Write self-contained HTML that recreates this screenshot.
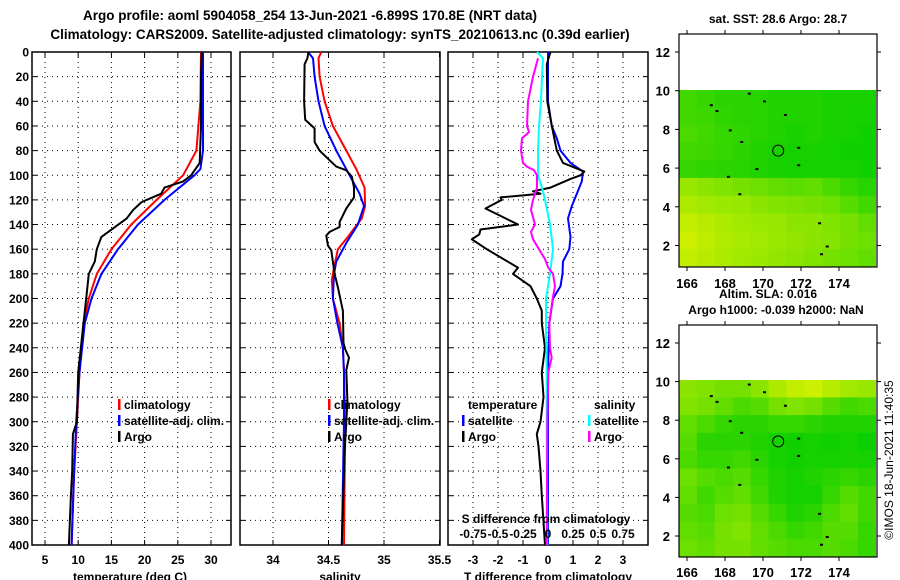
<!DOCTYPE html>
<html><head><meta charset="utf-8"><style>
html,body{margin:0;padding:0;background:#fff;}
svg{display:block;font-family:"Liberation Sans",sans-serif;font-weight:bold;}
</style></head><body>
<svg id="chart" width="900" height="580" viewBox="0 0 900 580" xmlns="http://www.w3.org/2000/svg">
<defs>
<filter id="blur" x="-5%" y="-5%" width="110%" height="110%"><feGaussianBlur stdDeviation="5"/></filter>
<clipPath id="clipTop"><rect x="679" y="90" width="197" height="177"/></clipPath>
<clipPath id="clipBot"><rect x="679" y="380" width="197" height="177"/></clipPath>
</defs>
<text x="310" y="20" font-size="13.5" text-anchor="middle">Argo profile: aoml 5904058_254 13-Jun-2021 -6.899S 170.8E (NRT data)</text>
<text x="340" y="39" font-size="13.5" text-anchor="middle">Climatology: CARS2009. Satellite-adjusted climatology: synTS_20210613.nc (0.39d earlier)</text>
<text x="778" y="23" font-size="12" text-anchor="middle">sat. SST: 28.6 Argo: 28.7</text>
<text x="768" y="298" font-size="12" text-anchor="middle">Altim. SLA: 0.016</text>
<text x="776" y="314" font-size="12" text-anchor="middle">Argo h1000: -0.039 h2000: NaN</text>
<text transform="translate(893,460) rotate(-90)" font-size="12" font-weight="normal" text-anchor="middle">©IMOS 18-Jun-2021 11:40:35</text>
<g id="g"></g>
</svg>
<script>
// ---------- data ----------
const depthTicks=[0,20,40,60,80,100,120,140,160,180,200,220,240,260,280,300,320,340,360,380,400];
const tempTicks=[5,10,15,20,25,30];
const salTicks=[34,34.5,35,35.5];
const tdiffTicks=[-3,-2,-1,0,1,2,3];
const sdiffTickLabels=["-0.75","-0.5","-0.25","0","0.25","0.5","0.75"];
const sdiffTickValues=[-0.75,-0.5,-0.25,0,0.25,0.5,0.75];

const argoTempDepth=[0,20,60,90,100,105,110,115,120,122,128,135,143,150,160,170,180,200,220,260,300,310,340,360,400];
const argoTemp=[28.6,28.5,28.5,28.3,27.0,25.8,23.0,22.5,20.3,19.5,18.3,17.3,15.3,13.5,12.8,12.5,11.6,11.2,10.8,10.0,9.8,9.2,9.1,8.9,8.6];
const climTempDepth=[0,40,80,100,120,140,160,180,200,220,260,300,350,400];
const climTemp=[28.5,28.4,27.8,25.8,21.8,18.0,15.0,12.8,11.6,10.8,10.2,9.8,9.3,9.0];
const satTempDepth=[0,80,95,100,120,140,160,180,200,220,260,300,340,400];
const satTemp=[28.8,28.8,28.4,27.5,23.0,19.0,16.0,13.5,12.0,11.0,10.2,9.7,9.4,9.0];

const argoSalDepth=[0,5,10,40,55,62,73,80,87,93,96,101,110,118,127,138,142,146,149,157,161,180,191,210,236,241,248,258,283,300,325,400];
const argoSal=[34.32,34.31,34.285,34.28,34.29,34.375,34.375,34.42,34.5,34.57,34.66,34.71,34.73,34.73,34.66,34.6,34.6,34.51,34.48,34.495,34.525,34.555,34.585,34.63,34.635,34.65,34.685,34.66,34.67,34.66,34.645,34.62];
const climSalDepth=[0,5,20,40,60,80,95,110,125,135,150,160,175,185,200,220,240,260,300,350,400];
const climSal=[34.435,34.41,34.42,34.465,34.54,34.66,34.75,34.825,34.83,34.8,34.675,34.585,34.55,34.53,34.54,34.6,34.63,34.64,34.65,34.645,34.64];
const satSalDepth=[0,5,20,40,60,80,100,115,125,140,155,170,180,200,220,240,260,300,400];
const satSal=[34.315,34.36,34.375,34.41,34.465,34.57,34.69,34.78,34.82,34.765,34.66,34.57,34.55,34.54,34.58,34.63,34.64,34.64,34.62];

const satTdiffDepth=[0,40,60,70,80,90,97,105,115,125,135,150,160,170,180,190,200,220,260,400];
const satTdiff=[0,0,0.15,0.35,0.5,0.9,1.4,1.35,1.15,0.95,0.8,0.9,0.85,0.6,0.58,0.5,0.2,0.05,0,0];
const argoTdiffDepth=[0,10,40,60,80,90,97,100,103,110,113,115,118,120,127,140,144,148,152,160,175,180,190,200,210,220,240,260,280,300,310,320,340,360,400];
const argoTdiff=[0.1,-0.05,-0.03,0.15,0.35,0.6,1.45,1.3,0.9,0.1,-0.6,-0.3,-1.9,-1.85,-2.5,-1.2,-2.7,-2.75,-3.05,-2.45,-1.2,-1.4,-0.7,-0.45,-0.25,-0.25,-0.12,-0.25,-0.18,-0.3,-0.45,-0.38,-0.3,-0.25,-0.12];
const satSdiffDepth=[0,5,20,40,60,80,100,110,120,140,160,180,200,220,260,300,400];
const satSdiff=[-0.11,-0.05,-0.06,-0.07,-0.09,-0.1,-0.1,-0.06,-0.03,0.02,0.05,0.02,-0.02,-0.02,-0.013,-0.013,-0.007];
const argoSdiffDepth=[5,20,40,60,65,70,80,90,93,96,100,110,120,128,140,146,152,160,168,175,180,190,200,220,240,248,260,300,400];
const argoSdiff=[-0.1,-0.15,-0.2,-0.21,-0.19,-0.26,-0.27,-0.25,-0.21,-0.14,-0.11,-0.11,-0.15,-0.17,-0.13,-0.17,-0.15,-0.09,-0.03,0.003,0.05,0.07,0.047,0.013,0.02,0.037,0.003,-0.007,-0.013];

const latTicks=[2,4,6,8,10,12];
const lonTicks=[166,168,170,172,174];
// map field values (0=green, 1=yellow), rows from lat 10 down to lat 1, cols lon 165.6..176
const sstField=[
[0.30,0.25,0.20,0.20,0.18,0.15,0.15,0.15,0.12,0.12,0.12],
[0.30,0.28,0.22,0.20,0.18,0.15,0.15,0.15,0.12,0.10,0.10],
[0.35,0.30,0.25,0.22,0.18,0.15,0.12,0.15,0.12,0.10,0.08],
[0.30,0.28,0.25,0.20,0.15,0.12,0.10,0.12,0.10,0.08,0.08],
[0.25,0.22,0.20,0.18,0.15,0.12,0.10,0.10,0.10,0.10,0.08],
[0.70,0.65,0.60,0.55,0.50,0.45,0.42,0.45,0.35,0.25,0.18],
[0.80,0.75,0.72,0.70,0.65,0.60,0.58,0.55,0.50,0.40,0.30],
[0.90,0.85,0.80,0.75,0.72,0.70,0.65,0.65,0.60,0.55,0.45],
[0.95,0.88,0.82,0.78,0.75,0.72,0.68,0.65,0.62,0.55,0.50],
[0.90,0.85,0.80,0.75,0.72,0.68,0.65,0.60,0.55,0.50,0.45]];
const slaField=[
[0.65,0.60,0.55,0.55,0.65,0.80,0.90,0.95,0.85,0.75,0.70],
[0.60,0.55,0.45,0.35,0.40,0.55,0.60,0.55,0.40,0.30,0.35],
[0.45,0.35,0.25,0.20,0.20,0.25,0.25,0.20,0.15,0.15,0.15],
[0.40,0.20,0.18,0.20,0.15,0.10,0.08,0.10,0.08,0.10,0.05],
[0.35,0.25,0.25,0.30,0.20,0.10,0.08,0.10,0.10,0.12,0.10],
[0.50,0.40,0.35,0.40,0.25,0.15,0.10,0.15,0.20,0.25,0.20],
[0.45,0.30,0.40,0.45,0.30,0.15,0.10,0.10,0.25,0.40,0.30],
[0.40,0.35,0.50,0.55,0.40,0.25,0.15,0.20,0.35,0.45,0.30],
[0.45,0.40,0.55,0.60,0.45,0.35,0.25,0.30,0.40,0.40,0.25],
[0.50,0.45,0.55,0.55,0.45,0.40,0.35,0.35,0.40,0.35,0.25]];
const argoLon=[170.8], argoLat=[6.9];

// ---------- drawing ----------
const NS="http://www.w3.org/2000/svg";
const G=document.getElementById('g');
function el(tag,attrs,parent){const e=document.createElementNS(NS,tag);for(const k in attrs)e.setAttribute(k,attrs[k]);(parent||G).appendChild(e);return e;}
const Y0=52,Y1=545;
const yD=d=>Y0+(d/400)*(Y1-Y0);
function lin(d0,d1,r0,r1){return v=>r0+(v-d0)/(d1-d0)*(r1-r0);}

function panel(name,x0,x1,xs,xticks,xlabels,title,titleX,showY){
  const f=el('rect',{x:x0,y:Y0,width:x1-x0,height:Y1-Y0,fill:'none',stroke:'#000','stroke-width':1.5});
  
  
  depthTicks.forEach(d=>{
    const y=yD(d);
    if(d>0&&d<400){const l=el('line',{x1:x0,x2:x1,y1:y,y2:y,stroke:'#000','stroke-dasharray':'1,4','stroke-width':1});
      }
    el('line',{x1:x0,x2:x0+5,y1:y,y2:y,stroke:'#000'});el('line',{x1:x1-5,x2:x1,y1:y,y2:y,stroke:'#000'});
    if(showY){const t=el('text',{x:29,y:y+4.5,'font-size':12,'text-anchor':'end'});t.textContent=d;
      }
  });
  xticks.forEach((v,i)=>{
    const x=xs(v);
    if(x>x0+1&&x<x1-1){const l=el('line',{x1:x,x2:x,y1:Y0,y2:Y1,stroke:'#000','stroke-dasharray':'1,4'});
      }
    el('line',{x1:x,x2:x,y1:Y1-5,y2:Y1,stroke:'#000'});el('line',{x1:x,x2:x,y1:Y0,y2:Y0+5,stroke:'#000'});
    const t=el('text',{x:x,y:564,'font-size':12,'text-anchor':'middle'});t.textContent=xlabels[i];
    
  });
  const tt=el('text',{x:titleX,y:581,'font-size':12,'text-anchor':'middle'});tt.textContent=title;
  
}
function series(name,depths,vals,xs,color,w){
  const pts=depths.map((d,i)=>xs(vals[i]).toFixed(1)+','+yD(d).toFixed(1)).join(' ');
  const p=el('polyline',{points:pts,fill:'none',stroke:color,'stroke-width':w||2,'stroke-linejoin':'round'});
  
  
}
function legend(items,x,y){
  items.forEach((it,i)=>{
    const yy=y+i*16;
    el('rect',{x:x,y:yy-10,width:2.5,height:11,fill:it[1]});
    const t=el('text',{x:x+6,y:yy,'font-size':12});t.textContent=it[0];
    
    
  });
}

// panel 1 temperature
const xT=lin(5,30,45,211);
panel('temperature-panel',32,231,xT,tempTicks,tempTicks.map(String),'temperature (deg C)',130,true);
series('climatology-temp-line',climTempDepth,climTemp,xT,'#f00');
series('satellite-temp-line',satTempDepth,satTemp,xT,'#00f');
series('argo-temp-line',argoTempDepth,argoTemp,xT,'#000');
legend([['climatology','#f00'],['satellite-adj. clim.','#00f'],['Argo','#000']],118,409);

// panel 2 salinity
const xS=lin(34,35,273,384);
panel('salinity-panel',240,440,xS,salTicks,salTicks.map(String),'salinity',340,false);
series('climatology-sal-line',climSalDepth,climSal,xS,'#f00');
series('satellite-sal-line',satSalDepth,satSal,xS,'#00f');
series('argo-sal-line',argoSalDepth,argoSal,xS,'#000');
legend([['climatology','#f00'],['satellite-adj. clim.','#00f'],['Argo','#000']],328,409);

// panel 3 differences
const xTd=lin(0,1,548,573);
const xSd=v=>xTd(v*4);
panel('difference-panel',448,648,xTd,tdiffTicks,tdiffTicks.map(String),'T difference from climatology',548,false);
series('satellite-tdiff-line',satTdiffDepth,satTdiff,xTd,'#00f');
series('argo-tdiff-line',argoTdiffDepth,argoTdiff,xTd,'#000');
series('satellite-sdiff-line',satSdiffDepth,satSdiff,xSd,'#0ff');
series('argo-sdiff-line',argoSdiffDepth,argoSdiff,xSd,'#f0f');
const lb=el('text',{x:546,y:523,'font-size':12,'text-anchor':'middle'});lb.textContent='S difference from climatology';

sdiffTickValues.forEach((v,i)=>{const t=el('text',{x:xSd(v),y:538,'font-size':12,'text-anchor':'middle'});t.textContent=sdiffTickLabels[i];
  });
const tl=el('text',{x:468,y:409,'font-size':12});tl.textContent='temperature';

const sl=el('text',{x:594,y:409,'font-size':12});sl.textContent='salinity';

legend([['satellite','#00f'],['Argo','#000']],462,425);
legend([['satellite','#0ff'],['Argo','#f0f']],588,425);

// maps
function colorOf(v){const g=[0,205,0],yl=[215,242,0];return 'rgb('+g.map((c,i)=>Math.round(c+(yl[i]-c)*v)).join(',')+')';}
function map(name,top,lat12y,lat2y,bottom,field,lonLabelY,clip){
  const x0=679,x1=877;
  const yL=lin(12,2,lat12y,lat2y), xL=lin(166,174,687,839);
  const rows=field.length, cols=field[0].length;
  const yTop=yL(10.1);
  const cw=(x1-1-x0)/cols, rh=(bottom-yTop)/rows;
  const cg=el('g',{});
  
  
  const bg=el('g',{'clip-path':'url(#'+clip+')'},cg);
  const bl=el('g',{filter:'url(#blur)'},bg);
  [bg,bl].forEach(parent=>{
    field.forEach((row,r)=>row.forEach((v,c)=>{
      const cell=el('rect',{x:x0+c*cw,y:yTop+r*rh,width:cw+0.6,height:rh+0.6,fill:colorOf(v)},parent);
      
      
    }));
  });
  [[167.2,9.3],[167.5,9.0],[169.2,9.9],[170.0,9.5],[171.1,8.8],[168.2,8.0],[168.8,7.4],[171.8,7.1],[169.6,6.0],[171.8,6.2],[168.7,4.7],[172.9,3.2],[173.0,1.6],[173.3,2.0],[168.1,5.6]].forEach(p=>{
    el('rect',{x:xL(p[0]),y:yL(p[1]),width:3,height:2,fill:'#000'});
  });
  const c=el('circle',{cx:xL(argoLon[0]),cy:yL(argoLat[0]),r:5.5,fill:'none',stroke:'#000','stroke-width':1});
  
  const f=el('rect',{x:x0,y:top,width:x1-x0,height:bottom-top,fill:'none',stroke:'#000','stroke-width':1.2});
  
  latTicks.forEach(l=>{const y=yL(l);el('line',{x1:x0-4,x2:x0,y1:y,y2:y,stroke:'#000'});el('line',{x1:x1,x2:x1+4,y1:y,y2:y,stroke:'#000'});
    const t=el('text',{x:670,y:y+5,'font-size':13,'text-anchor':'end'});t.textContent=l;
    });
  lonTicks.forEach(l=>{const x=xL(l);el('line',{x1:x,x2:x,y1:bottom,y2:bottom+4,stroke:'#000'});el('line',{x1:x,x2:x,y1:top-4,y2:top,stroke:'#000'});
    const t=el('text',{x:x,y:lonLabelY,'font-size':13,'text-anchor':'middle'});t.textContent=l;
    });
}
map('sst-map',34,52,245.5,267,sstField,288,'clipTop');
map('sla-map',325,343,536,557,slaField,577,'clipBot');
</script>
</body></html>
